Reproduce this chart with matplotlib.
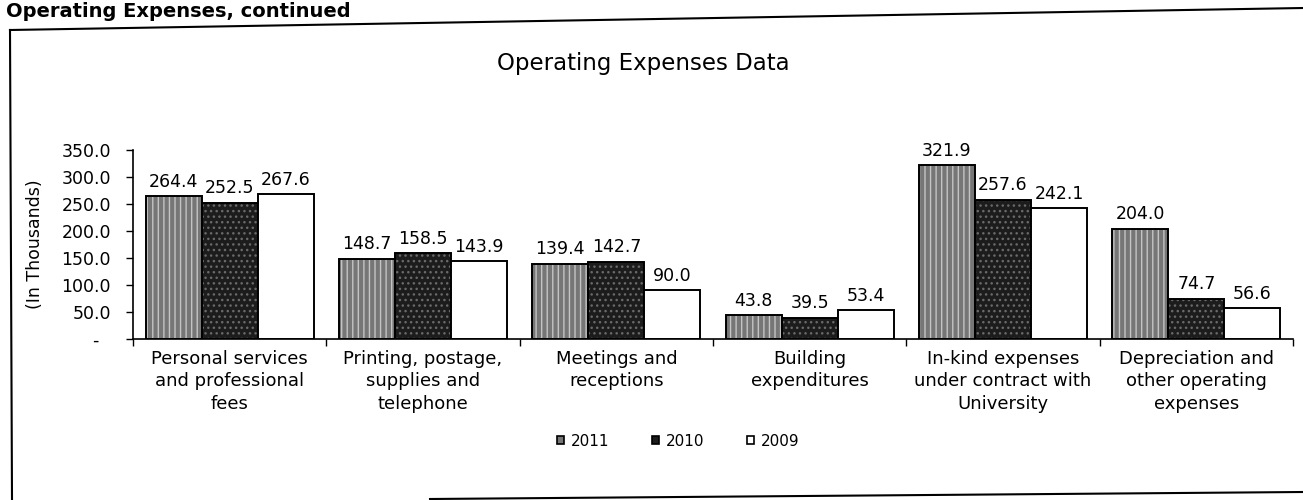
import numpy as np
import matplotlib.pyplot as plt
from matplotlib.lines import Line2D
from matplotlib.patches import Patch

plt.rcParams['font.family'] = ['DejaVu Sans']

# Data
categories = ['Personal services\nand professional\nfees',
              'Printing, postage,\nsupplies and\ntelephone',
              'Meetings and\nreceptions',
              'Building\nexpenditures',
              'In-kind expenses\nunder contract with\nUniversity',
              'Depreciation and\nother operating\nexpenses']
years = ['2011', '2010', '2009']
vals_2011 = [264.4, 148.7, 139.4, 43.8, 321.9, 204.0]
vals_2010 = [252.5, 158.5, 142.7, 39.5, 257.6, 74.7]
vals_2009 = [267.6, 143.9, 90.0, 53.4, 242.1, 56.6]
y_ticks = [0, 50, 100, 150, 200, 250, 300, 350]
y_tick_labels = ['-  ', '50.0', '100.0', '150.0', '200.0', '250.0', '300.0', '350.0']

series = [vals_2011, vals_2010, vals_2009]
faces = ['#767676', '#1c1c1c', 'white']
hatches = ['|||', '...', None]
hatch_cols = ['#c4c4c4', '#6a6a6a', 'white']

W, H = 1303, 500
fig = plt.figure(figsize=(W / 100, H / 100), dpi=100)
ax = fig.add_axes([133 / W, 1 - 339 / H, (1293 - 133) / W, (339 - 150) / H])

x = np.arange(len(categories))
bw = 0.29
for i, vals in enumerate(series):
    pos = x + (i - 1) * bw
    # texture first, then a black outline on top
    ax.bar(pos, vals, bw, color=faces[i], hatch=hatches[i],
           edgecolor=hatch_cols[i], linewidth=0)
    bars = ax.bar(pos, vals, bw, fill=False, edgecolor='black', linewidth=1.4)
    ax.bar_label(bars, fmt='%.1f', padding=4, fontsize=12.5)

ax.set_xlim(-0.5, len(categories) - 0.5)
ax.set_ylim(0, 350)
ax.set_yticks(y_ticks)
ax.set_yticklabels(y_tick_labels, fontsize=12.5)
ax.tick_params(axis='y', direction='out', length=5, width=1, pad=11)

ax.set_xticks(x)
ax.set_xticklabels(categories, fontsize=13, linespacing=1.3)
ax.tick_params(axis='x', which='major', length=0, pad=8)
ax.set_xticks(np.arange(len(categories) + 1) - 0.5, minor=True)
ax.tick_params(axis='x', which='minor', direction='out', length=5, width=1)

for s in ['top', 'right']:
    ax.spines[s].set_visible(False)
for s in ['left', 'bottom']:
    ax.spines[s].set_linewidth(1.2)

# title, axis label, page heading
fig.text(643 / W, 1 - 70 / H, 'Operating Expenses Data', fontsize=16.5,
         ha='center', va='baseline')
fig.text(35 / W, 1 - 244 / H, '(In Thousands)', fontsize=12.5,
         rotation=90, ha='center', va='center')
fig.text(6 / W, 1 - 17 / H, 'Operating Expenses, continued', fontsize=14,
         fontweight='bold', ha='left', va='baseline')

# legend
handles = [Patch(facecolor=faces[i], edgecolor='black', linewidth=1.2)
           for i in range(len(years))]
fig.legend(handles, years, loc='center', bbox_to_anchor=(678 / W, 1 - 441 / H),
           ncol=3, frameon=False, fontsize=11, handlelength=0.5,
           handleheight=0.5, handletextpad=0.4, columnspacing=2.8)

# frame of the scanned page
fig.add_artist(Line2D([10 / W, 1.0], [1 - 30 / H, 1 - 8 / H],
                      transform=fig.transFigure, color='black', lw=1.5))
fig.add_artist(Line2D([10 / W, 12 / W], [1 - 30 / H, 1 - 499 / H],
                      transform=fig.transFigure, color='black', lw=1.5))
fig.add_artist(Line2D([430 / W, 1.0], [1 - 499 / H, 1 - 492 / H],
                      transform=fig.transFigure, color='black', lw=1.5))

fig.savefig('out.png', dpi=100)
